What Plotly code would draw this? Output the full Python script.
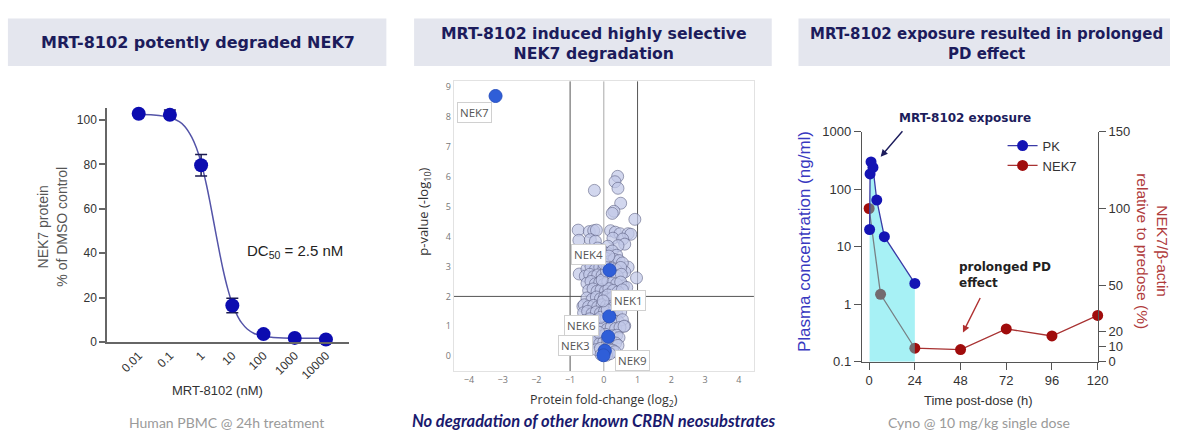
import plotly.graph_objects as go

# ---------------- data ----------------
# Panel 1: NEK7 degradation dose-response (Human PBMC, 24h)
conc_nM = [0.01, 0.1, 1, 10, 100, 1000, 10000]
nek7_protein_pct = [102.8, 102.3, 79.6, 16.5, 3.6, 1.9, 1.2]
err_plus = [0.0, 2.2, 4.9, 3.2, 0.0, 0.0, 0.0]
err_minus = [0.0, 1.4, 4.8, 3.3, 0.0, 0.0, 0.0]
fit_conc_nM = [0.01, 0.03, 0.1, 0.2, 0.3, 0.5, 0.7, 1, 1.5, 2, 3, 4, 5, 7, 10,
               15, 20, 30, 50, 100, 300, 1000, 10000]
fit_pct = [102.4, 102.2, 101.1, 99.2, 97.1, 92.3, 87.6, 80.8, 70.5, 61.8, 48.6,
           39.5, 32.9, 24.4, 17.2, 11.5, 8.65, 5.9, 3.9, 2.6, 1.92, 1.76, 1.7]
dose_ticktext = ["0.01", "0.1", "1", "10", "100", "1000", "10000"]
pct_ticks = [0, 20, 40, 60, 80, 100]

# Panel 2: volcano plot (proteomics)
cloud_fc = [
    0.41, 0.33, 0.42, -0.28, 0.50, 0.30, 0.25, 0.92,
    -0.76, -0.43, -0.30, -0.22, 0.20, 0.34, 0.48, 0.72, 0.80,
    -0.74, -0.40, -0.25, 0.27, 0.56, 0.62, 0.42, -0.18, -0.47, 0.12,
    0.72, 0.97, -0.73, 0.62, 0.58, -0.62, 0.62,
    -0.42, -0.30, -0.15, -0.02, 0.12, 0.25, 0.38,
    -0.48, -0.35, -0.22, -0.08, 0.05, 0.18, 0.30, 0.45, 0.55,
    -0.50, -0.38, -0.25, -0.12, 0.00, 0.10, 0.25, 0.35, 0.50,
    -0.55, -0.42, -0.30, -0.18, -0.05, 0.05, 0.28, 0.40, 0.52,
    -0.50, -0.38, -0.25, -0.12, 0.00, 0.12, 0.25, 0.38, 0.50, 0.68,
    -0.45, -0.32, -0.20, -0.08, 0.05, 0.15, 0.28, 0.42, 0.55,
    -0.50, -0.35, -0.22, -0.10, 0.02, 0.14, 0.26, 0.40, 0.52,
    -0.58, -0.45, -0.30, -0.18, -0.05, 0.08, 0.20, 0.32, 0.45,
    -0.60, -0.48, -0.35, -0.22, -0.10, 0.02, 0.25, 0.38, 0.50,
    -0.56, -0.42, -0.30, -0.18, -0.06, 0.06, 0.28, 0.42, 0.55,
    -0.52, -0.40, -0.28, -0.15, -0.02, 0.10, 0.22, 0.35, 0.48, 0.60,
    -0.45, -0.32, -0.20, -0.08, 0.05, 0.25, 0.38, 0.45,
    -0.38, -0.25, -0.12, 0.00, 0.10, 0.22, 0.35, 0.42,
    -0.22, -0.10, 0.02, 0.15, 0.26, 0.33,
    -0.08, 0.08, 0.18,
    -0.05, 0.08, -0.10, 0.10, -0.15, 0.12, 0.00, 0.15, -0.02, 0.10,
]
cloud_logp = [
    6.02, 5.84, 5.62, 5.55, 5.12, 4.85, 4.78, 4.58,
    4.22, 4.17, 4.20, 4.22, 4.20, 4.15, 4.10, 4.10, 4.08,
    3.88, 3.90, 3.85, 3.95, 3.92, 3.75, 3.70, 3.62, 3.55, 3.68,
    2.98, 2.62, 2.75, 2.82, 2.35, 1.67, 1.02,
    3.42, 3.48, 3.40, 3.50, 3.44, 3.52, 3.38,
    3.18, 3.25, 3.15, 3.22, 3.28, 3.17, 3.24, 3.20, 3.12,
    2.92, 3.00, 2.90, 2.98, 2.93, 3.02, 2.95, 2.90, 2.97,
    2.68, 2.74, 2.66, 2.72, 2.70, 2.65, 2.72, 2.68, 2.74,
    2.44, 2.50, 2.42, 2.47, 2.40, 2.50, 2.45, 2.42, 2.48, 2.30,
    2.20, 2.25, 2.17, 2.22, 2.18, 2.26, 2.20, 2.15, 2.22,
    1.95, 1.90, 1.98, 1.92, 1.97, 1.90, 1.96, 1.92, 1.98,
    1.72, 1.66, 1.70, 1.65, 1.72, 1.68, 1.74, 1.66, 1.70,
    1.45, 1.50, 1.42, 1.48, 1.44, 1.50, 1.46, 1.42, 1.48,
    1.20, 1.25, 1.17, 1.22, 1.18, 1.24, 1.20, 1.16, 1.22,
    0.95, 0.90, 0.97, 0.92, 0.96, 0.90, 0.97, 0.92, 0.96, 1.00,
    0.72, 0.67, 0.70, 0.65, 0.73, 0.68, 0.70, 0.62,
    0.45, 0.50, 0.42, 0.47, 0.40, 0.48, 0.44, 0.36,
    0.22, 0.26, 0.20, 0.25, 0.20, 0.15,
    0.05, 0.03, 0.08,
    2.55, 2.85, 1.30, 1.55, 0.80, 2.05, 3.10, 3.35, 1.85, 0.60,
]
nek_names = ["NEK7", "NEK4", "NEK1", "NEK6", "NEK3", "NEK9"]
nek_fc = [-3.21, 0.17, 0.16, 0.13, 0.03, -0.01]
nek_logp = [8.71, 2.88, 1.33, 0.65, 0.18, 0.03]
nek_label_fc = [-3.83, -0.46, 0.72, -0.67, -0.83, 0.84]
nek_label_logp = [8.15, 3.41, 1.85, 1.03, 0.37, -0.16]
fc_cutoffs = [-1, 1]
fc_zero = [0]
logp_cutoff = [2]
fc_ticks = [-4, -3, -2, -1, 0, 1, 2, 3, 4]
logp_ticks = [0, 1, 2, 3, 4, 5, 6, 7, 8, 9]

# Panel 3: PK / PD in cyno
pk_time_h = [0.25, 0.5, 1, 2, 4, 8, 24]
pk_conc_ngml = [20, 185, 300, 240, 65, 15, 2.3]
pd_time_h = [0, 6, 24, 48, 72, 96, 120]
pd_nek7_pct = [100, 44, 8.8, 7.9, 21.4, 16.8, 30.2]
time_ticks = [0, 24, 48, 72, 96, 120]
conc_ticks = [0.1, 1, 10, 100, 1000]
conc_ticktext = ["0.1", "1", "10", "100", "1000"]
pd_ticks = [0, 10, 20, 50, 100, 150]
conc_axis_min = 0.1

# ---------------- layout helpers ----------------
W, H = 1181, 438


def fx(p):
    return p / W


def fy(p):
    return 1 - p / H


ARIAL = "Liberation Sans"
NAVY = "#1c1c5c"

fig = go.Figure()

# Panel 1 traces
fig.add_trace(go.Scatter(
    x=fit_conc_nM, y=fit_pct, mode="lines", xaxis="x", yaxis="y",
    line=dict(color="#5454a8", width=1.5, shape="spline"),
    showlegend=False, hoverinfo="skip"))
fig.add_trace(go.Scatter(
    x=conc_nM, y=nek7_protein_pct, mode="markers", xaxis="x", yaxis="y",
    marker=dict(color="#0c0cb0", size=14),
    error_y=dict(type="data", symmetric=False, array=err_plus,
                 arrayminus=err_minus, color="#1a1a50", thickness=1.5, width=6),
    showlegend=False, cliponaxis=False))

# Panel 2 traces
fig.add_trace(go.Scatter(
    x=cloud_fc, y=cloud_logp, mode="markers", xaxis="x2", yaxis="y2",
    marker=dict(color="rgba(192,199,232,0.72)", size=12,
                line=dict(color="rgba(92,94,130,0.58)", width=1)),
    showlegend=False))
fig.add_trace(go.Scatter(
    x=nek_fc, y=nek_logp, mode="markers", xaxis="x2", yaxis="y2",
    marker=dict(color="#2f5ed8", size=13, line=dict(color="#2a52c0", width=1)),
    text=nek_names, showlegend=False, cliponaxis=False))

# Panel 3 traces: NEK7 on main (right, linear) axis, PK on overlaid log axis
fig.add_trace(go.Scatter(
    x=pd_time_h, y=pd_nek7_pct, mode="lines+markers", xaxis="x3", yaxis="y3",
    name="NEK7",
    line=dict(color="#a83232", width=1.3),
    marker=dict(color="#a00c0c", size=11), cliponaxis=False))
fig.add_trace(go.Scatter(
    x=[pk_time_h[0], pk_time_h[-1]], y=[conc_axis_min, conc_axis_min],
    mode="lines", xaxis="x3", yaxis="y4", line=dict(width=0),
    showlegend=False, hoverinfo="skip"))
fig.add_trace(go.Scatter(
    x=pk_time_h, y=pk_conc_ngml, mode="lines", xaxis="x3", yaxis="y4",
    fill="tonexty", fillcolor="rgba(60,225,232,0.45)", line=dict(width=0),
    showlegend=False, hoverinfo="skip"))
fig.add_trace(go.Scatter(
    x=pk_time_h, y=pk_conc_ngml, mode="lines+markers", xaxis="x3", yaxis="y4",
    name="PK",
    line=dict(color="#3a3aa6", width=1.3),
    marker=dict(color="#1414b4", size=11), cliponaxis=False))

# guide lines for volcano
shapes = []
for v in fc_cutoffs:
    shapes.append(dict(type="line", xref="x2", yref="y2 domain", x0=v, x1=v,
                       y0=0, y1=1, line=dict(color="#555555", width=1),
                       layer="below"))
for v in fc_zero:
    shapes.append(dict(type="line", xref="x2", yref="y2 domain", x0=v, x1=v,
                       y0=0, y1=1, line=dict(color="#a8a8a8", width=1),
                       layer="below"))
for v in logp_cutoff:
    shapes.append(dict(type="line", xref="x2 domain", yref="y2", x0=0, x1=1,
                       y0=v, y1=v, line=dict(color="#555555", width=1),
                       layer="below"))

# title boxes
for (l, r) in [(8, 390), (418, 779), (806, 1181)]:
    shapes.append(dict(type="rect", xref="paper", yref="paper",
                       x0=fx(l), x1=fx(r), y0=fy(61), y1=fy(12),
                       fillcolor="#e4e6ee", line=dict(width=0), layer="below"))

ann = []


def add_text(x, y, text, size, color, family=ARIAL, angle=0, xanchor="center",
             align="center", yanchor="middle"):
    ann.append(dict(xref="paper", yref="paper", x=fx(x), y=fy(y), text=text,
                    showarrow=False, textangle=angle, xanchor=xanchor,
                    yanchor=yanchor, align=align,
                    font=dict(family=family, size=size, color=color)))


# Titles
add_text(200, 37, "<b>MRT-8102 potently degraded NEK7</b>", 16, NAVY, "DejaVu Sans")
add_text(600, 38, "<b>MRT-8102 induced highly selective<br>NEK7 degradation</b>", 15.7,
         NAVY, "DejaVu Sans")
add_text(996, 38, "<b>MRT-8102 exposure resulted in prolonged<br>PD effect</b>", 15,
         NAVY, "DejaVu Sans")

# Panel 1 texts
add_text(53, 228, "NEK7 protein<br>% of DMSO control", 14, "#555555", angle=-90)
add_text(220, 397, "MRT-8102 (nM)", 13, "#333333")
add_text(298, 253, "DC<sub>50</sub> = 2.5 nM", 15, "#222222")
add_text(229, 430, "Human PBMC @ 24h treatment", 14, "#9a9a9a", "Lato")

# Panel 2 texts
add_text(428, 212, "p-value (-log<sub>10</sub>)", 13, "#333333", "Open Sans", angle=-90)
add_text(610, 407, "Protein fold-change (log<sub>2</sub>)", 12.5, "#333333", "Open Sans")
add_text(600, 429, "<b><i>No degradation of other known CRBN neosubstrates</i></b>",
         16.5, "#1a1a6e", "Lato")
for name, lx, ly in zip(nek_names, nek_label_fc, nek_label_logp):
    ann.append(dict(xref="x2", yref="y2", x=lx, y=ly, text=name, showarrow=False,
                    bgcolor="white", bordercolor="#d0d0d0", borderwidth=1,
                    borderpad=2,
                    font=dict(family="Open Sans", size=11.5, color="#555555")))

# Panel 3 texts
add_text(812, 243, "Plasma concentration (ng/ml)", 17, "#3838c0", angle=-90)
add_text(1164, 253, "NEK7/β-actin<br>relative to predose (%)", 15.5, "#b03c3c", angle=90)
add_text(988, 407, "Time post-dose (h)", 13, "#333333")
add_text(988, 430, "Cyno @ 10 mg/kg single dose", 14, "#9a9a9a", "Lato")
add_text(974, 115, "<b>MRT-8102 exposure</b>", 12, NAVY, "DejaVu Sans")
add_text(966, 278, "<b>prolonged PD<br>effect</b>", 12, "#222222", "DejaVu Sans",
         xanchor="left", align="left")
ann.append(dict(xref="paper", yref="paper", x=fx(889), y=fy(155), text="",
                showarrow=True, ax=23, ay=-27,
                arrowhead=2, arrowsize=1, arrowwidth=1.4, arrowcolor="#1c1c5c"))
ann.append(dict(xref="paper", yref="paper", x=fx(972), y=fy(337), text="",
                showarrow=True, ax=18, ay=-36,
                arrowhead=2, arrowsize=1, arrowwidth=1.4, arrowcolor="#b03030"))

axis_common = dict(showgrid=False, zeroline=False)
tick3 = dict(ticks="outside", ticklen=7, tickwidth=1.3, tickcolor="#555555",
             showline=True, linecolor="#555555", linewidth=1.3,
             tickfont=dict(family=ARIAL, size=13, color="#333333"))

fig.update_layout(
    width=W, height=H, margin=dict(l=0, r=0, t=0, b=0),
    paper_bgcolor="white", plot_bgcolor="white",
    shapes=shapes, annotations=ann,
    showlegend=True,
    legend=dict(x=fx(1012), y=fy(128), xanchor="left", yanchor="top",
                traceorder="reversed",
                bgcolor="rgba(0,0,0,0)", font=dict(family=ARIAL, size=13, color="#333333"),
                itemwidth=30, tracegroupgap=0),
    xaxis=dict(domain=[fx(108), fx(352)], anchor="y", type="log",
               range=[-3.016, 4.73], tickvals=conc_nM, ticktext=dose_ticktext,
               tickangle=-45, ticks="", showline=True, linecolor="#666666",
               linewidth=1.5, tickfont=dict(family=ARIAL, size=12, color="#333333"),
               **axis_common),
    yaxis=dict(domain=[fy(347), fy(105)], anchor="x", range=[0, 105.2],
               tickvals=pct_ticks, ticks="outside", ticklen=6, tickwidth=1.5,
               tickcolor="#666666", showline=True, linecolor="#666666",
               linewidth=1.5, tickfont=dict(family=ARIAL, size=12, color="#333333"),
               **axis_common),
    xaxis2=dict(domain=[fx(458), fx(761)], anchor="y2", range=[-4.45, 4.45],
                tickvals=fc_ticks, ticks="", showline=True, mirror=True,
                linecolor="#e2e2e2", linewidth=1,
                tickfont=dict(family="Open Sans", size=9, color="#777777"),
                **axis_common),
    yaxis2=dict(domain=[fy(377), fy(77)], anchor="x2", range=[-0.5, 9.2],
                tickvals=logp_ticks, ticks="", showline=True, mirror=True,
                linecolor="#e2e2e2", linewidth=1,
                tickfont=dict(family="Open Sans", size=9, color="#777777"),
                **axis_common),
    xaxis3=dict(domain=[fx(870), fx(1108)], anchor="y3", range=[-3.8, 120],
                tickvals=time_ticks, **tick3, **axis_common),
    yaxis3=dict(domain=[fy(367.3), fy(129.3)], anchor="x3", side="right",
                range=[0, 150], tickvals=pd_ticks, **tick3, **axis_common),
    yaxis4=dict(overlaying="y3", anchor="x3", side="left", type="log",
                range=[-1, 3], tickvals=conc_ticks, ticktext=conc_ticktext,
                **tick3, **axis_common),
)

fig.write_html("out.html", config={"displayModeBar": False})
